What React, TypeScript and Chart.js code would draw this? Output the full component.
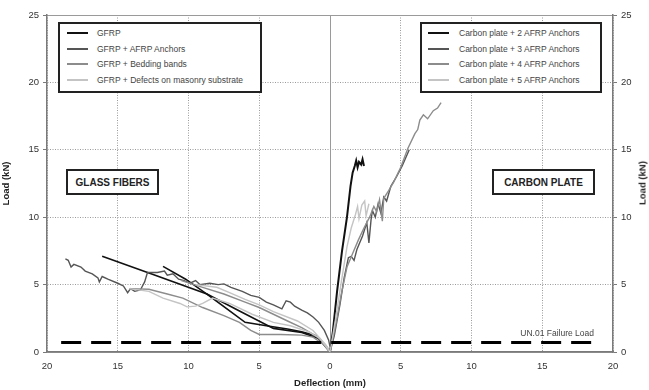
import React, { useEffect, useRef } from "react";
import { Chart, registerables } from "chart.js";

Chart.register(...registerables);

type Pt = [number, number];

// ---- axes ----
const xMin = -20;
const xMax = 20;
const xStep = 5;
const yMin = 0;
const yMax = 25;
const yStep = 5;

// ---- glass fibers (left, deflection plotted negative) ----
const gfrp: Pt[] = [[-16.1, 7.1], [-12.5, 5.75], [-8.7, 4.3], [-6, 2.2], [-4.5, 1.95], [-3, 1.7], [-2, 1.5], [-1, 1.2], [-0.4, 0.6], [0, 0]];
const gfrpB: Pt[] = [[-11.8, 6.35], [-10.2, 5.4], [-8.7, 4.3], [-6.5, 3.1], [-4, 1.75], [-2, 1.45], [-0.8, 1.0], [0, 0]];
const gfrpAfrp: Pt[] = [[-18.7, 6.9], [-18.5, 6.8], [-18.3, 6.3], [-18.1, 6.5], [-17.6, 6.3], [-17.3, 6.0], [-16.8, 5.8], [-16.4, 5.5], [-16.3, 5.2], [-16.1, 5.6], [-15.7, 5.4], [-15, 5.1], [-14.6, 4.9], [-14.3, 4.4], [-14.1, 4.7], [-13.8, 4.5], [-13.4, 4.6], [-13.1, 5.2], [-12.9, 5.9], [-12.2, 5.9], [-11.7, 6.0], [-11.5, 5.7], [-11.1, 5.8], [-10.7, 5.4], [-10.3, 5.3], [-9.9, 5.1], [-9.5, 5.3], [-9.2, 5.0], [-8.5, 5.1], [-7.9, 5.0], [-7.5, 5.05], [-7, 4.8], [-6.2, 4.5], [-5.6, 4.2], [-5, 4.05], [-4.5, 3.7], [-4, 3.5], [-3.4, 3.2], [-3.1, 3.8], [-2.8, 3.7], [-2.5, 3.4], [-2, 3.1], [-1.6, 2.9], [-1.2, 2.6], [-0.8, 2.2], [-0.4, 1.6], [-0.1, 0.9], [0, 0.4]];
const gfrpBedding: Pt[] = [[-14.2, 4.7], [-12.8, 4.65], [-11.5, 4.3], [-10.4, 4.0], [-9, 3.3], [-7.5, 2.7], [-6.4, 2.2], [-5.6, 1.6], [-5, 1.3], [-3.5, 1.3], [-2, 1.25], [-1.2, 1.1], [-0.5, 0.6], [0, 0]];
const gfrpBedding2: Pt[] = [[-10.5, 5.3], [-9, 4.8], [-7.5, 4.3], [-6, 3.7], [-5, 3.3], [-4, 2.8], [-3, 2.3], [-2, 1.8], [-1, 1.2], [-0.3, 0.5], [0, 0]];
const gfrpDefects: Pt[] = [[-14.2, 4.7], [-12.8, 4.5], [-11.8, 4.0], [-10.6, 3.6], [-10.1, 3.35], [-9.5, 3.4], [-9, 3.6], [-8.3, 4.0], [-7.1, 3.6], [-5.5, 2.8], [-4, 2.2], [-2.8, 1.95], [-1.5, 1.5], [-0.7, 1.0], [0, 0]];
const gfrpDefects2: Pt[] = [[-9.5, 5.0], [-8, 4.8], [-7.1, 4.4], [-6, 3.9], [-5, 3.5], [-4, 3.0], [-2.3, 2.3], [-1.2, 1.6], [-0.7, 1.0], [-0.2, 0.4], [0, 0]];

// ---- carbon plate (right) ----
const carbon2: Pt[] = [[0, 0], [0.2, 1.5], [0.5, 4.5], [0.85, 7.5], [1.2, 10], [1.45, 12.3], [1.6, 13.3], [1.75, 13.8], [1.85, 14.2], [1.95, 13.7], [2.05, 14.1], [2.2, 13.9], [2.3, 14.3], [2.4, 13.8]];
const carbon3: Pt[] = [[0, 0], [0.3, 1.2], [0.7, 3.5], [1.0, 5.5], [1.3, 7.0], [1.5, 7.1], [1.7, 6.8], [1.9, 7.6], [2.3, 8.6], [2.6, 9.6], [2.75, 8.1], [2.9, 9.8], [3.0, 10.5], [3.2, 10.0], [3.4, 11.0], [3.6, 10.3], [3.8, 11.5], [4.0, 11.2], [4.3, 12.3], [4.7, 13.0], [5.1, 13.8], [5.6, 15.0]];
const carbon4: Pt[] = [[0, 0], [0.4, 2], [0.8, 4.3], [1.2, 6.3], [1.6, 7.3], [2.0, 8.3], [2.4, 9.2], [2.8, 10.0], [3.1, 10.8], [3.3, 10.4], [3.5, 11.3], [3.7, 9.7], [3.8, 11.4], [4.1, 11.9], [4.5, 12.6], [5.0, 13.7], [5.5, 15.1], [6.0, 16.2], [6.2, 16.5], [6.35, 17.2], [6.6, 17.6], [6.9, 17.3], [7.3, 17.9], [7.6, 18.1], [7.85, 18.5]];
const carbon5: Pt[] = [[0, 0], [0.4, 2.5], [0.8, 5.2], [1.2, 7.8], [1.5, 9.2], [1.8, 10.2], [1.95, 10.8], [2.05, 9.9], [2.25, 10.9], [2.45, 11.2], [2.55, 10.1], [2.75, 11.0]];

// ---- failure load reference ----
const failureLoad = 0.7;
const failureFrom = -19;
const failureTo = 18.6;

const glassLabels = ["GFRP", "GFRP + AFRP Anchors", "GFRP + Bedding bands", "GFRP + Defects on masonry substrate"];
const carbonLabels = ["Carbon plate + 2 AFRP Anchors", "Carbon plate + 3 AFRP Anchors", "Carbon plate + 4 AFRP Anchors", "Carbon plate + 5 AFRP Anchors"];
const shades = ["#111111", "#555555", "#8c8c8c", "#c4c4c4"];

const FONT = "'Liberation Sans', Arial, sans-serif";

function toXY(a: Pt[]) {
  return a.map(([x, y]) => ({ x, y }));
}

export default function App() {
  const ref = useRef<HTMLCanvasElement | null>(null);

  useEffect(() => {
    document.body.style.margin = "0";
    const canvas = ref.current;
    if (!canvas) return;

    const line = (data: Pt[], color: string, width = 1.4) => ({
      data: toXY(data),
      borderColor: color,
      backgroundColor: color,
      borderWidth: width,
      pointRadius: 0,
      tension: 0,
      fill: false,
    });

    const datasets: any[] = [
      {
        ...line([[failureFrom, failureLoad], [failureTo, failureLoad]], "#000000", 3),
        borderDash: [20, 10],
      },
      line(gfrpDefects, shades[3]),
      line(gfrpDefects2, shades[3]),
      line(gfrpBedding, shades[2]),
      line(gfrpBedding2, shades[2]),
      line(gfrpAfrp, shades[1]),
      line(gfrp, shades[0], 1.6),
      line(gfrpB, shades[0], 1.6),
      line(carbon5, shades[3]),
      line(carbon4, shades[2]),
      line(carbon3, shades[1]),
      line(carbon2, shades[0], 2),
    ];

    const tickFont = { family: FONT, size: 9.5 };
    const titleFont = { family: FONT, size: 9.5, weight: "bold" as const };
    const gridDash = (ctx: any) => {
      const v = ctx.tick ? ctx.tick.value : null;
      if (v === null) return [];
      return v === 0 || v === yMax ? [] : [1, 1.5];
    };

    const chart = new Chart(canvas, {
      type: "line",
      data: { datasets },
      options: {
        animation: false,
        responsive: false,
        devicePixelRatio: 1,
        layout: { padding: { top: 15, left: 0, right: 0, bottom: 0 } },
        plugins: { legend: { display: false }, tooltip: { enabled: false } },
        scales: {
          x: {
            type: "linear",
            min: xMin,
            max: xMax,
            afterFit: (s: any) => { s.height = 38; },
            ticks: {
              stepSize: xStep,
              font: tickFont,
              color: "#333",
              padding: 9,
              callback: (v: any) => String(Math.abs(Number(v))),
            },
            grid: { color: "#9a9a9a", lineWidth: 1, drawTicks: false },
            border: { display: true, color: "#7a7a7a", width: 1.5, dash: (ctx: any) => { const v = ctx.tick ? ctx.tick.value : null; return v === null || v === 0 ? [] : [1, 1.5]; } },
            title: { display: true, text: "Deflection (mm)", font: titleFont, color: "#222", padding: { top: 0, bottom: 1 } },
          },
          y: {
            type: "linear",
            position: "left",
            min: yMin,
            max: yMax,
            afterFit: (s: any) => { s.width = 47; },
            ticks: { stepSize: yStep, font: tickFont, color: "#333", padding: 4 },
            grid: { color: "#9a9a9a", lineWidth: 1, drawTicks: true, tickLength: 4, tickColor: "#7a7a7a" },
            border: { display: true, color: "#7a7a7a", width: 1.5, dash: gridDash },
            title: { display: true, text: "Load (kN)", font: titleFont, color: "#222", padding: { top: 1, bottom: 0 } },
          },
          y2: {
            type: "linear",
            position: "right",
            min: yMin,
            max: yMax,
            afterFit: (s: any) => { s.width = 36; },
            ticks: { stepSize: yStep, font: tickFont, color: "#333", padding: 4 },
            grid: { drawOnChartArea: false, drawTicks: true, tickLength: 4, color: "#7a7a7a" },
            border: { display: true, color: "#7a7a7a", width: 1.5 },
            title: { display: false },
          },
        },
      } as any,
    });
    return () => chart.destroy();
  }, []);

  const legendBox = (left: number, width: number, labels: string[], sampleLeft: number, textLeft: number) => (
    <div
      style={{
        position: "absolute",
        left,
        top: 22,
        width,
        height: 71,
        boxSizing: "border-box",
        border: "2px solid #222",
        background: "#fff",
        fontFamily: FONT,
        fontSize: 8.5,
        color: "#444",
      }}
    >
      {labels.map((t, i) => {
        const cy = [9, 25, 40, 56][i];
        return (
          <React.Fragment key={t}>
            <div style={{ position: "absolute", left: sampleLeft, top: cy - 1, width: 21, height: 2, background: shades[i] }} />
            <div style={{ position: "absolute", left: textLeft, top: cy - 6, lineHeight: "12px", whiteSpace: "nowrap" }}>{t}</div>
          </React.Fragment>
        );
      })}
    </div>
  );

  const tagBox = (left: number, top: number, width: number, text: string) => (
    <div
      style={{
        position: "absolute",
        left,
        top,
        width,
        height: 26,
        boxSizing: "border-box",
        border: "2px solid #222",
        background: "#fff",
        fontFamily: FONT,
        fontWeight: "bold",
        fontSize: 10,
        color: "#222",
        display: "flex",
        alignItems: "center",
        justifyContent: "center",
        whiteSpace: "nowrap",
      }}
    >
      {text}
    </div>
  );

  return (
    <div style={{ position: "relative", width: 649, height: 390, background: "#fff", overflow: "hidden" }}>
      <canvas ref={ref} width={649} height={390} style={{ display: "block", width: 649, height: 390 }} />
      {legendBox(58, 204, glassLabels, 7, 37)}
      {legendBox(420, 182, carbonLabels, 6, 37)}
      {tagBox(66, 169, 93, "GLASS FIBERS")}
      {tagBox(492, 169, 103, "CARBON PLATE")}
      <div
        style={{
          position: "absolute",
          left: 642,
          top: 183,
          transform: "translate(-50%, -50%) rotate(-90deg)",
          fontFamily: FONT,
          fontWeight: "bold",
          fontSize: 9.5,
          color: "#222",
          whiteSpace: "nowrap",
        }}
      >
        Load (kN)
      </div>
      <div
        style={{
          position: "absolute",
          right: 649 - 594,
          top: 328,
          fontFamily: FONT,
          fontSize: 8.5,
          color: "#444",
          whiteSpace: "nowrap",
        }}
      >
        UN.01 Failure Load
      </div>
    </div>
  );
}
